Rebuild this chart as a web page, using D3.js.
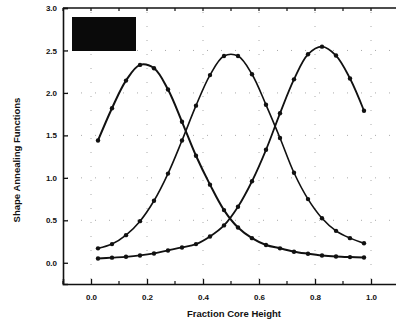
<!DOCTYPE html>
<html>
<head>
<meta charset="utf-8">
<script src="https://cdn.jsdelivr.net/npm/d3@7"></script>
<style>
  body { margin: 0; background: #fff; }
  text { font-family: "Liberation Sans", Arial, sans-serif; fill: #111; }
</style>
</head>
<body>
<script>
// fraction core height at each sample
let xs = [0.025, 0.075, 0.125, 0.175, 0.225, 0.275, 0.325, 0.375, 0.425, 0.475,
          0.525, 0.575, 0.625, 0.675, 0.725, 0.775, 0.825, 0.875, 0.925, 0.975]
// three shape annealing functions (bottom, middle, top of core)
let lowerFn = [1.44, 1.82, 2.145, 2.33, 2.29, 2.04, 1.66, 1.26, 0.92, 0.62,
               0.415, 0.29, 0.21, 0.17, 0.13, 0.106, 0.086, 0.074, 0.067, 0.062]
let middleFn = [0.17, 0.22, 0.325, 0.49, 0.73, 1.05, 1.44, 1.85, 2.21, 2.435,
                2.435, 2.22, 1.86, 1.47, 1.06, 0.75, 0.525, 0.376, 0.29, 0.23]
let upperFn = [0.05, 0.06, 0.07, 0.086, 0.11, 0.145, 0.18, 0.22, 0.31, 0.44,
               0.66, 0.96, 1.33, 1.76, 2.16, 2.455, 2.545, 2.44, 2.17, 1.79]
let xTicks = [0.0, 0.2, 0.4, 0.6, 0.8, 1.0]
let yTicks = [0.0, 0.5, 1.0, 1.5, 2.0, 2.5, 3.0]

let W = 396, H = 323
let L = 63, R = 399, T = 8, B = 284

let svg = d3.select("body").append("svg")
    .attr("width", W).attr("height", H)

let x = d3.scaleLinear().domain([-0.1, 1.1]).range([L, R])
let y = d3.scaleLinear().domain([-0.25, 3.0]).range([B, T])

//faint dotted grid
let grid = svg.append("g").attr("stroke", "#aaa").attr("stroke-width", 1)
    .attr("stroke-dasharray", "1,13")
grid.selectAll(".gx").data(xTicks).enter().append("line")
    .attr("x1", d => x(d)).attr("x2", d => x(d)).attr("y1", T + 4).attr("y2", B - 4)
grid.selectAll(".gy").data(yTicks.slice(1, 6)).enter().append("line")
    .attr("y1", d => y(d)).attr("y2", d => y(d)).attr("x1", L + 4).attr("x2", R)

//axes (ticks pointing inward)
let xAxis = d3.axisBottom(x).tickValues(xTicks).tickSize(-5).tickPadding(10)
    .tickFormat(d3.format(".1f"))
let gx = svg.append("g").attr("transform", "translate(0," + B + ")").call(xAxis)
let yAxis = d3.axisLeft(y).tickValues(yTicks).tickSize(-5).tickPadding(6)
    .tickFormat(d3.format(".1f"))
let gy = svg.append("g").attr("transform", "translate(" + L + ",0)").call(yAxis)
;[gx, gy].forEach(g => {
  g.select(".domain").attr("stroke", "#111").attr("stroke-width", 1.6)
  g.selectAll(".tick line").attr("stroke", "#111").attr("stroke-width", 1.3)
  g.selectAll(".tick text").attr("font-size", 8).attr("font-weight", "bold")
    .attr("fill", "#111")
})

//minor ticks
let minorX = d3.range(-0.1, 1.1, 0.1).filter(v => Math.abs(Math.round(v * 10) % 2) == 1)
svg.append("g").selectAll("line").data(minorX).enter().append("line")
    .attr("x1", d => x(d)).attr("x2", d => x(d)).attr("y1", B).attr("y2", B - 3)
    .attr("stroke", "#111").attr("stroke-width", 1.2)
svg.append("g").selectAll("line").data(xTicks.concat(minorX)).enter().append("line")
    .attr("x1", d => x(d)).attr("x2", d => x(d)).attr("y1", T).attr("y2", T + 3)
    .attr("stroke", "#111").attr("stroke-width", 1.2)
svg.append("line").attr("x1", L).attr("x2", R).attr("y1", T).attr("y2", T)
    .attr("stroke", "#111").attr("stroke-width", 1.6)

//blacked out legend box
svg.append("rect").attr("x", 72).attr("y", 17).attr("width", 64).attr("height", 34)
    .attr("fill", "#0a0a0a")

//curves
let line = d3.line().x((d, i) => x(xs[i])).y(d => y(d)).curve(d3.curveCatmullRom)
let series = [
  {vals: lowerFn, w: 2.0},
  {vals: middleFn, w: 1.6},
  {vals: upperFn, w: 1.8}
]
series.forEach(s => {
  svg.append("path").datum(s.vals).attr("d", line)
      .attr("fill", "none").attr("stroke", "#111").attr("stroke-width", s.w)
  svg.append("g").selectAll("circle").data(s.vals).enter().append("circle")
      .attr("cx", (d, i) => x(xs[i])).attr("cy", d => y(d)).attr("r", 2.2)
      .attr("fill", "#111")
})

//titles
svg.append("text").attr("x", 234).attr("y", 317).attr("text-anchor", "middle")
    .attr("font-size", 9.5).attr("font-weight", "bold").text("Fraction Core Height")
svg.append("text").attr("transform", "translate(20,160) rotate(-90)")
    .attr("text-anchor", "middle").attr("font-size", 9.5).attr("font-weight", "bold")
    .text("Shape Annealing Functions")
</script>
</body>
</html>
